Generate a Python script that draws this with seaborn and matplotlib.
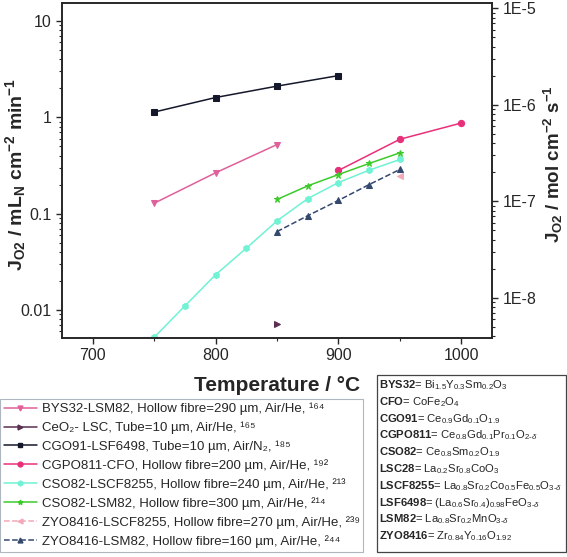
import numpy as np
import pandas as pd
import seaborn as sns
import matplotlib.pyplot as plt
from matplotlib.ticker import FixedLocator, FixedFormatter, FuncFormatter, MultipleLocator
from matplotlib.patches import Rectangle
from matplotlib.lines import Line2D

# == Data == #

temp_bys = [750, 800, 850]
flux_bys = [0.128, 0.265, 0.52]

temp_ceo = [850]
flux_ceo = [0.0071]

temp_cgo = [750, 800, 850, 900]
flux_cgo = [1.13, 1.60, 2.10, 2.70]

temp_cgpo = [900, 950, 1000]
flux_cgpo = [0.28, 0.59, 0.87]

temp_cso_lscf = [750, 775, 800, 825, 850, 875, 900, 925, 950]
flux_cso_lscf = [0.0052, 0.011, 0.0232, 0.0437, 0.084, 0.143, 0.21, 0.282, 0.364]

temp_cso_lsm = [850, 875, 900, 925, 950]
flux_cso_lsm = [0.14, 0.194, 0.254, 0.331, 0.427]

temp_zyo_lscf = [950]
flux_zyo_lscf = [0.244]

temp_zyo_lsm = [850, 875, 900, 925, 950]
flux_zyo_lsm = [0.065, 0.095, 0.137, 0.20, 0.287]

# unicode super/subscripts keep the legend rows compact
labels = [
    "BYS32-LSM82, Hollow fibre=290 µm, Air/He, \u00b9\u2076\u2074",
    "CeO\u2082- LSC, Tube=10 µm, Air/He, \u00b9\u2076\u2075",
    "CGO91-LSF6498, Tube=10 µm, Air/N\u2082, \u00b9\u2078\u2075",
    "CGPO811-CFO, Hollow fibre=200 µm, Air/He, \u00b9\u2079\u00b2",
    "CSO82-LSCF8255, Hollow fibre=240 µm, Air/He, \u00b2\u00b9\u00b3",
    "CSO82-LSM82, Hollow fibre=300 µm, Air/He, \u00b2\u00b9\u2074",
    "ZYO8416-LSCF8255, Hollow fibre=270 µm, Air/He, \u00b2\u00b3\u2079",
    "ZYO8416-LSM82, Hollow fibre=160 µm, Air/He, \u00b2\u2074\u2074",
]

abbrev = [
    r"$\mathbf{BYS32}$= Bi$_{1.5}$Y$_{0.3}$Sm$_{0.2}$O$_3$",
    r"$\mathbf{CFO}$= CoFe$_2$O$_4$",
    r"$\mathbf{CGO91}$= Ce$_{0.9}$Gd$_{0.1}$O$_{1.9}$",
    r"$\mathbf{CGPO811}$= Ce$_{0.8}$Gd$_{0.1}$Pr$_{0.1}$O$_{2\text{-}\delta}$",
    r"$\mathbf{CSO82}$= Ce$_{0.8}$Sm$_{0.2}$O$_{1.9}$",
    r"$\mathbf{LSC28}$= La$_{0.2}$Sr$_{0.8}$CoO$_3$",
    r"$\mathbf{LSCF8255}$= La$_{0.8}$Sr$_{0.2}$Co$_{0.5}$Fe$_{0.5}$O$_{3\text{-}\delta}$",
    r"$\mathbf{LSF6498}$= (La$_{0.6}$Sr$_{0.4}$)$_{0.98}$FeO$_{3\text{-}\delta}$",
    r"$\mathbf{LSM82}$= La$_{0.8}$Sr$_{0.2}$MnO$_{3\text{-}\delta}$",
    r"$\mathbf{ZYO8416}$= Zr$_{0.84}$Y$_{0.16}$O$_{1.92}$",
]

series = [
    (temp_bys, flux_bys, '#E0609A', 'v', '-'),
    (temp_ceo, flux_ceo, '#5A3050', '>', '-'),
    (temp_cgo, flux_cgo, '#14182A', 's', '-'),
    (temp_cgpo, flux_cgpo, '#E8307A', 'o', '-'),
    (temp_cso_lscf, flux_cso_lscf, '#70F2D4', 'h', '-'),
    (temp_cso_lsm, flux_cso_lsm, '#3CCB2A', '*', '-'),
    (temp_zyo_lscf, flux_zyo_lscf, '#F2A8B8', '<', '--'),
    (temp_zyo_lsm, flux_zyo_lsm, '#34486E', '^', '--'),
]

# mL(STP) cm-2 min-1 -> mol cm-2 s-1
FACTOR = 1.0 / (22414.0 * 60.0)

sns.set_style('ticks')
plt.rcParams['font.family'] = ['Liberation Sans', 'DejaVu Sans']
plt.rcParams['mathtext.fontset'] = 'custom'
plt.rcParams['mathtext.rm'] = 'Liberation Sans'
plt.rcParams['mathtext.it'] = 'Liberation Sans:italic'
plt.rcParams['mathtext.bf'] = 'Liberation Sans:bold'

fig = plt.figure(figsize=(5.67, 5.57), dpi=100)
ax = fig.add_axes([62 / 567, 1 - 338 / 557, 430 / 567, 335 / 557])

handles = []
for (t, f, c, m, ls), lab in zip(series, labels):
    df = pd.DataFrame({'T': t, 'J': f})
    sns.lineplot(data=df, x='T', y='J', ax=ax, color=c, marker=m, linestyle=ls,
                 linewidth=1.1, markersize=4.5, markeredgecolor=c, legend=False)
    handles.append(Line2D([], [], color=c, marker=m, linestyle=ls, linewidth=1.1,
                          markersize=3.5, label=lab))

ax.set_yscale('log')
ax.set_xlim(675, 1025)
ax.set_ylim(0.00512, 15.3)
ax.xaxis.set_major_locator(MultipleLocator(100))
ax.xaxis.set_minor_locator(MultipleLocator(50))
ax.yaxis.set_major_locator(FixedLocator([0.01, 0.1, 1, 10]))
ax.yaxis.set_major_formatter(FuncFormatter(lambda v, p: '%g' % v))
ax.tick_params(axis='both', which='major', labelsize=11.5, length=4, width=1, direction='out')
ax.tick_params(axis='both', which='minor', length=2, width=0.8, direction='out')
ax.set_xlabel('Temperature / °C', fontsize=15, fontweight='bold', labelpad=9)
ax.set_ylabel('')
for s in ax.spines.values():
    s.set_linewidth(1.2)

ax2 = ax.twinx()
ax2.set_yscale('log')
ax2.set_ylim(0.00512 * FACTOR, 15.3 * FACTOR)
ax2.yaxis.set_major_locator(FixedLocator([1e-8, 1e-7, 1e-6, 1e-5]))
ax2.yaxis.set_major_formatter(FixedFormatter(['1E-8', '1E-7', '1E-6', '1E-5']))
ax2.tick_params(axis='y', which='major', labelsize=11.5, length=4, width=1, direction='out')
ax2.tick_params(axis='y', which='minor', length=2, width=0.8, direction='out')
for s in ax2.spines.values():
    s.set_linewidth(1.2)

# axis titles placed at the same spots as in the original
fig.text(16 / 567, 1 - 174 / 557, r"$\mathbf{J_{O2}\ /\ mL_N\ cm^{-2}\ min^{-1}}$",
         fontsize=14, rotation=90, ha='center', va='center')
fig.text(553 / 567, 1 - 164 / 557, r"$\mathbf{J_{O2}\ /\ mol\ cm^{-2}\ s^{-1}}$",
         fontsize=13.5, rotation=90, ha='center', va='center')

leg = fig.legend(handles=handles, loc='upper left',
                 bbox_to_anchor=(0.0, 0.0, 363 / 567, 1 - 399 / 557), mode='expand',
                 fontsize=9.5, frameon=True, fancybox=False, edgecolor='#9AA5B0',
                 handlelength=2.5, handletextpad=0.4, labelspacing=0.47,
                 borderpad=0.3, borderaxespad=0.0)
leg.get_frame().set_linewidth(0.8)

fig.patches.append(Rectangle((377 / 567, 1 - 552 / 557), 189 / 567, 177 / 557,
                             transform=fig.transFigure, fill=False,
                             edgecolor='#444444', linewidth=0.9))
for i, txt in enumerate(abbrev):
    fig.text(379 / 567, 1 - (385 + i * 16.8) / 557, txt, fontsize=8.1,
             va='center', ha='left')

fig.savefig('out.png', dpi=100)
